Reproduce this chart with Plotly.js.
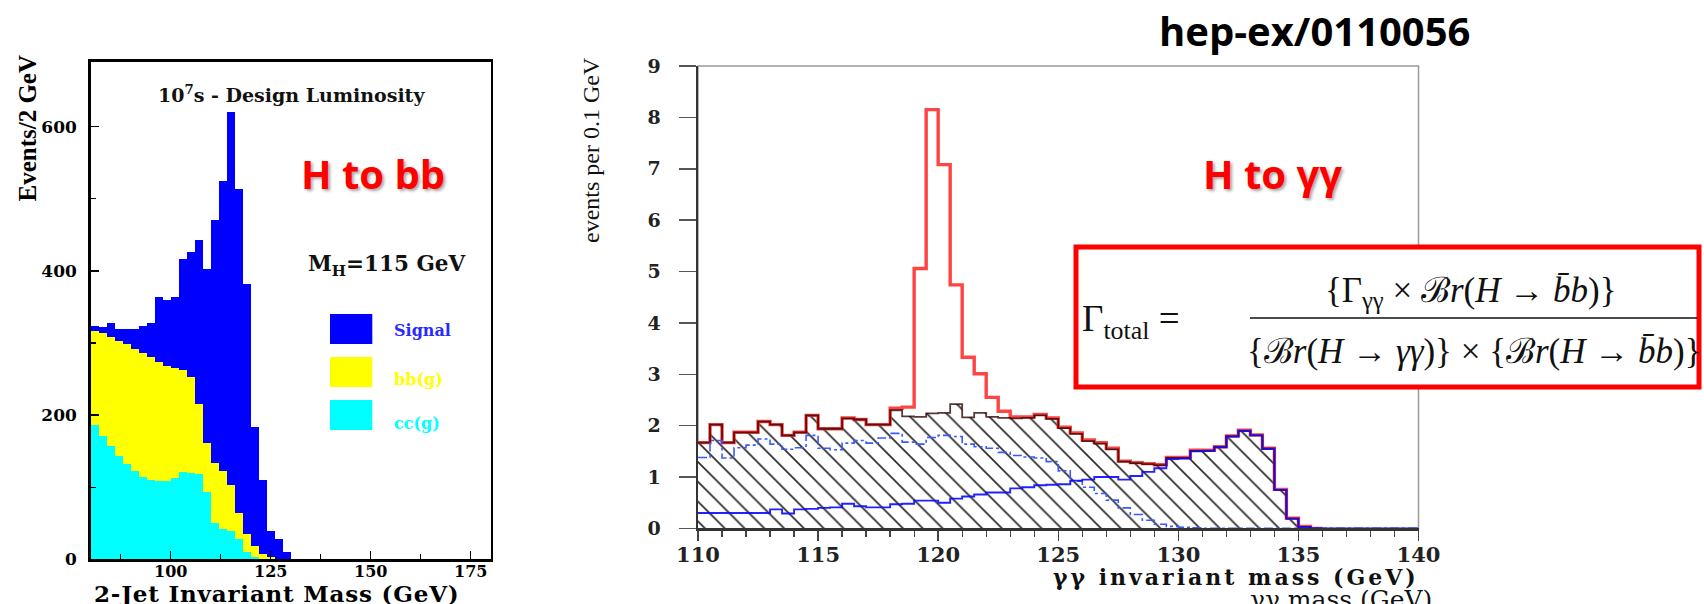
<!DOCTYPE html>
<html><head><meta charset="utf-8">
<script src="https://cdn.plot.ly/plotly-3.0.1.min.js"></script>
<style>html,body{margin:0;padding:0;background:#fff;}#chart{width:1704px;height:604px;}</style>
</head><body><div id="chart"></div>
<script>
// ---------- Left panel: H -> bb (events / 2 GeV) ----------
const BB_BIN_START = 80, BB_BIN_WIDTH = 2, BB_NBINS = 25;
const BB_CC     = [187,171,157,144,132,122,114,110,109,109,113,121,120,119,93,51,42,40,28,10,3,1,0,0,0];
const BB_BB     = [129,143,151,159,166,170,172,171,165,159,153,142,133,97,69,82,81,63,37,25,15,7,3,0,0];
const BB_SIGNAL = [7,8,20,17,22,28,37,47,90,92,98,154,173,227,241,337,402,517,448,347,165,102,36,28,10];
const BB_LEGEND = ['Signal','bb(g)','cc(g)'];

// ---------- Right panel: H -> gamma gamma (0.5 GeV bins) ----------
const GG_BIN_START = 110, GG_BIN_WIDTH = 0.5, GG_NBINS = 60;
const GG_TOTAL  = [1.67,2.02,1.67,1.87,1.87,2.08,2.02,1.81,1.87,2.20,
                   1.94,1.94,2.15,2.12,2.02,2.02,2.34,2.36,5.06,8.15,
                   7.08,4.74,3.33,3.01,2.55,2.28,2.17,2.17,2.22,2.15,
                   1.97,1.86,1.72,1.67,1.56,1.31,1.28,1.26,1.24,1.38,
                   1.38,1.52,1.52,1.59,1.80,1.91,1.82,1.56,0.76,0.20,
                   0.04,0,0,0,0,0,0,0,0,0];
const GG_BKG    = [1.67,2.02,1.67,1.87,1.87,2.08,2.02,1.81,1.87,2.20,
                   1.94,1.94,2.14,2.12,2.02,2.02,2.30,2.18,2.17,2.24,
                   2.25,2.42,2.16,2.25,2.17,2.15,2.14,2.15,2.20,2.13,
                   1.95,1.84,1.70,1.65,1.54,1.30,1.27,1.25,1.23,1.37,
                   1.37,1.51,1.51,1.58,1.79,1.90,1.81,1.55,0.75,0.19,
                   0.03,0,0,0,0,0,0,0,0,0];
const GG_BKG_DASHED = [1.38,1.71,1.37,1.57,1.62,1.74,1.64,1.54,1.57,1.81,
                   1.56,1.53,1.66,1.71,1.66,1.76,1.85,1.68,1.64,1.77,
                   1.81,1.79,1.64,1.59,1.56,1.48,1.42,1.39,1.37,1.30,
                   1.12,0.92,0.80,0.68,0.55,0.40,0.27,0.16,0.08,0.04,
                   0.02,0.01,0,0,0,0,0,0,0,0,
                   0,0,0,0,0,0,0,0,0,0];
const GG_BKG_SOLID = [0.30,0.30,0.30,0.30,0.30,0.30,0.37,0.29,0.37,0.38,
                   0.40,0.41,0.48,0.43,0.41,0.41,0.47,0.48,0.54,0.54,
                   0.50,0.58,0.62,0.66,0.70,0.70,0.78,0.80,0.84,0.85,
                   0.86,0.93,0.95,1.00,1.00,0.95,1.02,1.10,1.17,1.35,
                   1.36,1.50,1.51,1.58,1.79,1.90,1.81,1.55,0.75,0.19,
                   0.03,0,0,0,0,0,0,0,0,0];

// ---------- helpers ----------
const W = 1704, H = 604;
const fx = p => p / W, fy = p => 1 - p / H;
function centers(start, w, n){ const a=[]; for(let i=0;i<n;i++) a.push(start + w*(i+0.5)); return a; }
function activeBins(vals){ let last=-1; vals.forEach((v,i)=>{ if(v>0) last=i; }); return Math.min(vals.length, last+2); }
function step(start, w, vals, n){
  const x=[], y=[];
  for(let i=0;i<n;i++){ x.push(start + w*i); y.push(vals[i]); }
  x.push(start + w*n); y.push(vals[n-1]);
  return {x, y};
}
const spaced = (t, px) => '<span style="letter-spacing:' + px + 'px">' + t + '</span>';

const bbX = centers(BB_BIN_START, BB_BIN_WIDTH, BB_NBINS);
const ggX = centers(GG_BIN_START, GG_BIN_WIDTH, GG_NBINS);

const traces = [];
[[BB_CC,'#00ffff'],[BB_BB,'#ffff00'],[BB_SIGNAL,'#0000ff']].forEach(([v,c])=>{
  traces.push({type:'bar', x:bbX, y:v, width:BB_BIN_WIDTH, xaxis:'x', yaxis:'y',
    marker:{color:c, line:{width:0}}, hoverinfo:'skip'});
});

traces.push({type:'bar', x:ggX, y:GG_BKG, width:GG_BIN_WIDTH, xaxis:'x2', yaxis:'y2',
  marker:{color:'#ffffff', line:{width:0},
    pattern:{shape:'\\', size:14, solidity:0.12, fgcolor:'#2a2a2a', bgcolor:'#ffffff'}},
  hoverinfo:'skip'});

const sTot = step(GG_BIN_START, GG_BIN_WIDTH, GG_TOTAL, activeBins(GG_TOTAL));
traces.push({type:'scatter', mode:'lines', x:sTot.x, y:sTot.y, xaxis:'x2', yaxis:'y2',
  line:{shape:'hv', color:'rgba(255,35,35,0.85)', width:3.4}, hoverinfo:'skip'});
const sBkg = step(GG_BIN_START, GG_BIN_WIDTH, GG_BKG, activeBins(GG_BKG));
traces.push({type:'scatter', mode:'lines', x:sBkg.x, y:sBkg.y, xaxis:'x2', yaxis:'y2',
  line:{shape:'hv', color:'rgba(45,0,0,0.78)', width:1.8}, hoverinfo:'skip'});
const sDash = step(GG_BIN_START, GG_BIN_WIDTH, GG_BKG_DASHED, GG_NBINS);
traces.push({type:'scatter', mode:'lines', x:sDash.x, y:sDash.y, xaxis:'x2', yaxis:'y2',
  line:{shape:'hv', color:'#3a5aff', width:1.6, dash:'dashdot'}, hoverinfo:'skip'});
const sSolid = step(GG_BIN_START, GG_BIN_WIDTH, GG_BKG_SOLID, GG_NBINS);
traces.push({type:'scatter', mode:'lines', x:sSolid.x, y:sSolid.y, xaxis:'x2', yaxis:'y2',
  line:{shape:'hv', color:'rgba(10,10,255,0.9)', width:1.9}, hoverinfo:'skip'});

const bold = 'bold';
const SERIFW = 'DejaVu Serif', SERIF = 'Liberation Serif', SANS = 'Open Sans';

const layout = {
  width: W, height: H, margin:{l:0,r:0,t:0,b:0}, paper_bgcolor:'#fff', plot_bgcolor:'rgba(0,0,0,0)',
  showlegend:false, barmode:'stack', bargap:0,
  xaxis:{domain:[fx(90.7), fx(490.7)], range:[80,180], anchor:'y', showline:true, mirror:true,
    linecolor:'#000', linewidth:2.5, ticks:'inside', ticklen:8, tickwidth:1.5, tickcolor:'#000',
    tick0:0, dtick:25, minor:{ticks:'inside', ticklen:5, dtick:12.5, tick0:0, tickcolor:'#000', tickwidth:1.2},
    tickfont:{family:SERIFW, size:16, weight:bold, color:'#000'}, showgrid:false, zeroline:false, ticklabelstandoff:-4},
  yaxis:{domain:[fy(559.4), fy(61.7)], range:[0,690], anchor:'x', showline:true, mirror:true,
    linecolor:'#000', linewidth:2.5, ticks:'inside', ticklen:8, tickwidth:1.5, tickcolor:'#000',
    tick0:0, dtick:200, minor:{ticks:'inside', ticklen:5, dtick:100, tick0:0, tickcolor:'#000', tickwidth:1.2},
    tickfont:{family:SERIFW, size:17, weight:bold, color:'#000'}, showgrid:false, zeroline:false, ticklabelstandoff:8},
  xaxis2:{domain:[fx(698), fx(1418.5)], range:[110,140], anchor:'y2', showline:true,
    linecolor:'#333', linewidth:2.5, ticks:'outside', ticklen:10, tickwidth:1.5, tickcolor:'#444',
    tick0:110, dtick:5, minor:{ticks:'outside', ticklen:6, dtick:1, tick0:110, tickcolor:'#444', tickwidth:1.3},
    tickfont:{family:SERIFW, size:21, weight:bold, color:'#222'}, showgrid:false, zeroline:false, ticklabelstandoff:-4},
  yaxis2:{domain:[fy(528.4), fy(66)], range:[0,9], anchor:'x2', showline:true,
    linecolor:'#333', linewidth:2.5, ticks:'outside', ticklen:17, tickwidth:1.5, tickcolor:'#555',
    tick0:0, dtick:1,
    tickfont:{family:SERIFW, size:19, weight:bold, color:'#222'}, showgrid:false, zeroline:false, ticklabelstandoff:14},
  shapes:[
    {type:'rect', xref:'x2 domain', yref:'y2 domain', x0:0, x1:1, y0:0, y1:1, line:{color:'#9a9a9a', width:1.5}, layer:'below'},
    // legend swatches (left panel)
    {type:'rect', xref:'paper', yref:'paper', x0:fx(330), x1:fx(372.3), y0:fy(344), y1:fy(314), fillcolor:'#0000ff', line:{width:0}},
    {type:'rect', xref:'paper', yref:'paper', x0:fx(330), x1:fx(372.3), y0:fy(387), y1:fy(357), fillcolor:'#ffff00', line:{width:0}},
    {type:'rect', xref:'paper', yref:'paper', x0:fx(330), x1:fx(372.3), y0:fy(430), y1:fy(400), fillcolor:'#00ffff', line:{width:0}},
    // formula box
    {type:'rect', xref:'paper', yref:'paper', x0:fx(1076), x1:fx(1699), y0:fy(387), y1:fy(247), fillcolor:'#ffffff', line:{color:'#ff0000', width:5}},
    {type:'line', xref:'paper', yref:'paper', x0:fx(1250), x1:fx(1697), y0:fy(318), y1:fy(318), line:{color:'#111', width:1.6}}
  ],
  annotations:[
    {text:'hep-ex/0110056', x:fx(1314), y:fy(30), font:{family:SANS, size:40, weight:bold, color:'#000'}},
    {text:'H to bb', x:fx(373), y:fy(173), font:{family:SANS, size:40, weight:bold, color:'#ff0000', shadow:'2px 2px 3px rgba(0,0,0,0.35)'}},
    {text:'H to γγ', x:fx(1272), y:fy(173), font:{family:SANS, size:40, weight:bold, color:'#ff0000', shadow:'2px 2px 3px rgba(0,0,0,0.35)'}},
    {text:'10<sup>7</sup>s - Design Luminosity', x:fx(291), y:fy(94), font:{family:SERIFW, size:19, weight:bold, color:'#111'}},
    {text:'M<sub>H</sub>=115 GeV', x:fx(386), y:fy(265), font:{family:SERIFW, size:21.5, weight:bold, color:'#111'}},
    {text:BB_LEGEND[0], x:fx(391.7), y:fy(330), xanchor:'left', font:{family:SERIFW, size:16, weight:bold, color:'#2a2aff'}},
    {text:BB_LEGEND[1], x:fx(391.7), y:fy(379), xanchor:'left', font:{family:SERIFW, size:16, weight:bold, color:'#ffff00'}},
    {text:BB_LEGEND[2], x:fx(391.7), y:fy(423), xanchor:'left', font:{family:SERIFW, size:16, weight:bold, color:'#00ffff'}},
    {text:'Events/2 GeV', x:fx(27.5), y:fy(128), textangle:-90, font:{family:SERIF, size:25, weight:bold, color:'#000'}},
    {text:spaced('2-Jet Invariant Mass (GeV)', 0.8), x:fx(92), y:fy(593), xanchor:'left', font:{family:SERIFW, size:23, weight:bold, color:'#000'}},
    {text:'events per 0.1 GeV', x:fx(591), y:fy(150), textangle:-90, font:{family:SERIF, size:24, color:'#111'}},
    {text:spaced('γγ invariant mass (GeV)', 3), x:fx(1421), y:fy(577), xanchor:'right', font:{family:SERIFW, size:22, weight:bold, color:'#111'}},
    {text:'γγ mass (GeV)', x:fx(1434), y:fy(583), xanchor:'right', yanchor:'top', font:{family:SERIFW, size:25, color:'#111'}},
    {text:'Γ<sub>total</sub> =', x:fx(1080), y:fy(322), xanchor:'left', font:{family:SERIF, size:37, color:'#111'}},
    {text:'{Γ<sub>γγ</sub> × ℬ<i>r</i>(<i>H</i> → <i>b̄b</i>)}', x:fx(1470), y:fy(292), font:{family:SERIF, size:35, color:'#111'}},
    {text:'{ℬ<i>r</i>(<i>H</i> → <i>γγ</i>)} × {ℬ<i>r</i>(<i>H</i> → <i>b̄b</i>)}', x:fx(1474), y:fy(351), font:{family:SERIF, size:35, color:'#111'}}
  ].map(a => Object.assign({xref:'paper', yref:'paper', showarrow:false, xanchor:'center', yanchor:'middle'}, a))
};

Plotly.newPlot('chart', traces, layout, {staticPlot:true, displayModeBar:false});
</script></body></html>
